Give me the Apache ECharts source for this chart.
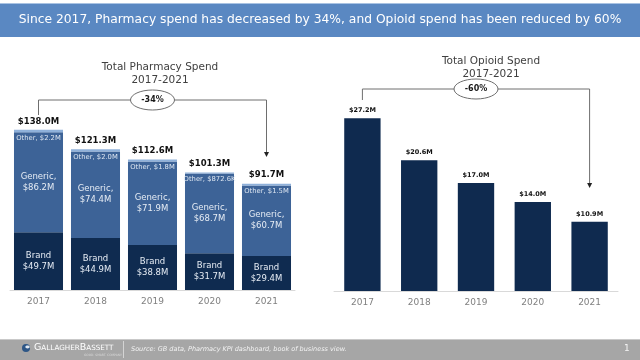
<!DOCTYPE html>
<html><head><meta charset="utf-8">
<script src="https://cdn.jsdelivr.net/npm/echarts@6/dist/echarts.min.js"></script>
<style>html,body{margin:0;padding:0;background:#fff}#c{width:640px;height:360px}</style>
</head><body><div id="c"></div>
<script>
const years = ['2017', '2018', '2019', '2020', '2021'];
const brand = [49.7, 44.9, 38.8, 31.7, 29.4];
const generic = [86.2, 74.4, 71.9, 68.7, 60.7];
const other = [2.2, 2.0, 1.8, 0.8726, 1.5];
const otherLabels = ['$2.2M', '$2.0M', '$1.8M', '$872.6K', '$1.5M'];
const totals = [138.0, 121.3, 112.6, 101.3, 91.7];
const opioid = [27.2, 20.6, 17.0, 14.0, 10.9];
const pharmacyChange = '-34%';
const opioidChange = '-60%';

const FONT = 'DejaVu Sans';
const chart = echarts.init(document.getElementById('c'));
const money = v => '$' + v.toFixed(1) + 'M';

chart.setOption({
  animation: false,
  textStyle: { fontFamily: FONT },
  title: [
    { text: 'Total Pharmacy Spend\n2017-2021', left: 155, top: 56, textAlign: 'center',
      textStyle: { fontFamily: FONT, fontSize: 10.5, fontWeight: 'normal', color: '#404040', lineHeight: 13 } },
    { text: 'Total Opioid Spend\n2017-2021', left: 486, top: 50, textAlign: 'center',
      textStyle: { fontFamily: FONT, fontSize: 10.5, fontWeight: 'normal', color: '#404040', lineHeight: 13 } }
  ],
  grid: [
    { left: 10, width: 285, top: 58, bottom: 70 },
    { left: 334, width: 284, top: 37, bottom: 69 }
  ],
  xAxis: [
    { type: 'category', gridIndex: 0, data: years, axisTick: { show: false },
      axisLine: { lineStyle: { color: '#d9d9d9' } },
      axisLabel: { color: '#808080', fontSize: 9, margin: 7 } },
    { type: 'category', gridIndex: 1, data: years, axisTick: { show: false },
      axisLine: { lineStyle: { color: '#d9d9d9' } },
      axisLabel: { color: '#808080', fontSize: 9, margin: 7 } }
  ],
  yAxis: [
    { type: 'value', gridIndex: 0, min: 0, max: 200, show: false },
    { type: 'value', gridIndex: 1, min: 0, max: 40, show: false }
  ],
  series: [
    { name: 'Brand', type: 'bar', xAxisIndex: 0, yAxisIndex: 0, stack: 'p', barWidth: '86%', data: brand,
      itemStyle: { color: '#0f2b50' },
      label: { show: true, position: 'inside', color: '#e6ecf4', fontSize: 8.5, lineHeight: 11,
        formatter: p => 'Brand\n$' + p.value.toFixed(1) + 'M' } },
    { name: 'Generic', type: 'bar', xAxisIndex: 0, yAxisIndex: 0, stack: 'p', barWidth: '86%', data: generic,
      itemStyle: { color: '#3d6397' },
      label: { show: true, position: 'inside', color: '#e6ecf4', fontSize: 8.5, lineHeight: 11,
        formatter: p => 'Generic,\n$' + p.value.toFixed(1) + 'M' } },
    { name: 'Other', type: 'bar', xAxisIndex: 0, yAxisIndex: 0, stack: 'p', barWidth: '86%', data: other,
      itemStyle: { color: '#8fb1da' },
      label: { show: true, position: 'bottom', distance: 2, color: '#dde6f1', fontSize: 6.8,
        formatter: p => 'Other, ' + otherLabels[p.dataIndex] } },
    { name: 'Total', type: 'bar', xAxisIndex: 0, yAxisIndex: 0, barWidth: '86%', barGap: '-100%', data: totals,
      silent: true, z: 1, itemStyle: { color: 'rgba(0,0,0,0)' },
      label: { show: true, position: 'top', distance: 4, color: '#111', fontSize: 8.5, fontWeight: 'bold',
        formatter: p => money(p.value) } },
    { name: 'Opioid', type: 'bar', xAxisIndex: 1, yAxisIndex: 1, barWidth: '64%', data: opioid,
      itemStyle: { color: '#0f2a4f' },
      label: { show: true, position: 'top', distance: 4, color: '#111', fontSize: 6.5, fontWeight: 'bold',
        formatter: p => money(p.value) } }
  ]
});

function bracket(xi, yi, topY, leftEndY, arrowY, txt) {
  const x0 = chart.convertToPixel({ xAxisIndex: xi }, years[0]);
  const x1 = chart.convertToPixel({ xAxisIndex: xi }, years[years.length - 1]);
  const cx = (x0 + x1) / 2;
  return [
    { type: 'polyline', shape: { points: [[x0, leftEndY], [x0, topY], [x1, topY], [x1, arrowY - 4]] },
      style: { stroke: '#6e6e6e', lineWidth: 1, fill: null }, z: 10 },
    { type: 'polygon', shape: { points: [[x1 - 2.5, arrowY - 5], [x1 + 2.5, arrowY - 5], [x1, arrowY]] },
      style: { fill: '#222' }, z: 10 },
    { type: 'ellipse', shape: { cx: cx, cy: topY, rx: 22, ry: 10 },
      style: { fill: '#fff', stroke: '#6e6e6e', lineWidth: 1 }, z: 11 },
    { type: 'text', x: cx, y: topY, style: { text: txt, fill: '#1a1a1a', font: 'bold 8px ' + FONT,
      align: 'center', verticalAlign: 'middle' }, z: 12 }
  ];
}

const g = [
  { type: 'rect', shape: { x: 0, y: 3, width: 640, height: 34 }, style: { fill: '#5a88c2' } },
  { type: 'rect', shape: { x: 0, y: 3, width: 640, height: 1 }, style: { fill: '#a9c3e3' } },
  { type: 'text', x: 320, y: 20, style: { text: 'Since 2017, Pharmacy spend has decreased by 34%, and Opioid spend has been reduced by 60%',
      fill: '#ffffff', font: '12.3px ' + FONT, align: 'center', verticalAlign: 'middle' } },
  { type: 'rect', shape: { x: 0, y: 339, width: 640, height: 21 }, style: { fill: '#a6a6a6' } },
  { type: 'rect', shape: { x: 0, y: 339, width: 640, height: 1 }, style: { fill: '#c9c9c9' } },
  { type: 'circle', shape: { cx: 26, cy: 348, r: 4 }, style: { fill: '#2d5686' } },
  { type: 'ellipse', shape: { cx: 27.5, cy: 347, rx: 2.2, ry: 1.4 }, style: { fill: '#dfe7f0' } },
  { type: 'text', x: 34, y: 348, style: { rich: { b: { fontSize: 9.5, fill: '#fff', fontFamily: FONT }, s: { fontSize: 7.2, fill: '#fff', fontFamily: FONT } },
      text: '{b|G}{s|ALLAGHER}{b|B}{s|ASSETT}', verticalAlign: 'middle' } },
  { type: 'text', x: 84, y: 355, style: { text: 'GOOD. SMART. COMPANY.', fill: '#d8d8d8', font: '3px ' + FONT, verticalAlign: 'middle' } },
  { type: 'rect', shape: { x: 123, y: 341, width: 0.8, height: 17 }, style: { fill: '#e0e0e0' } },
  { type: 'text', x: 131, y: 349, style: { text: 'Source: GB data, Pharmacy KPI dashboard, book of business view.',
      fill: '#f3f3f3', font: 'italic 6.5px ' + FONT, verticalAlign: 'middle' } },
  { type: 'text', x: 624, y: 349, style: { text: '1', fill: '#f3f3f3', font: '9px ' + FONT, verticalAlign: 'middle' } }
].concat(bracket(0, 0, 100, 115, 157, pharmacyChange), bracket(1, 1, 89, 100, 188, opioidChange));

chart.setOption({ graphic: g });
</script>
</body></html>
